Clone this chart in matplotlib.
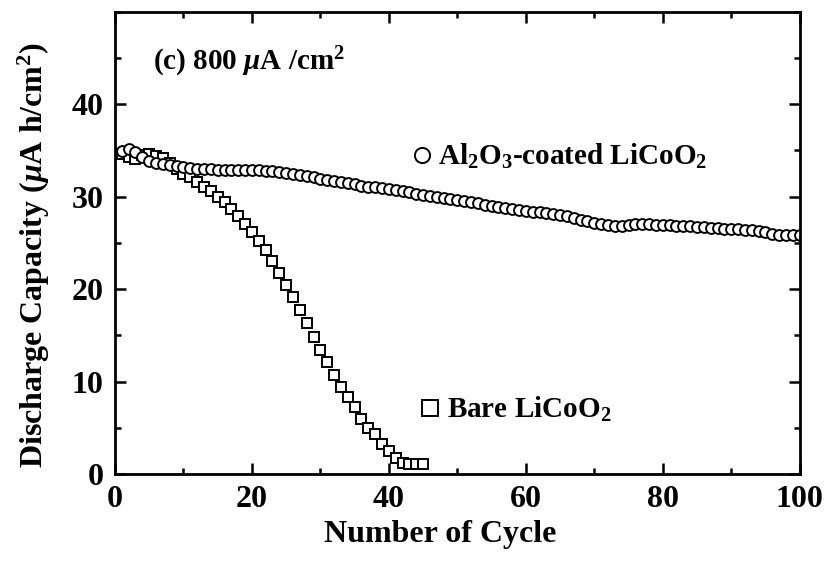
import numpy as np
import matplotlib.pyplot as plt
from matplotlib.ticker import MultipleLocator

plt.rcParams['font.family'] = ['Liberation Serif', 'DejaVu Serif']
plt.rcParams['font.weight'] = 'bold'
plt.rcParams['mathtext.fontset'] = 'custom'
plt.rcParams['mathtext.rm'] = 'Liberation Serif:bold'
plt.rcParams['mathtext.it'] = 'Liberation Serif:italic:bold'
plt.rcParams['mathtext.bf'] = 'Liberation Serif:bold'

# Al2O3-coated LiCoO2, cycles 1..100
coated_cycle = np.arange(1, 101)
coated_cap = [
    34.9, 35.2, 34.8, 34.3, 33.9, 33.7, 33.5, 33.4, 33.3, 33.2,
    33.1, 33.0, 33.0, 32.95, 32.9, 32.9, 32.9, 32.9, 32.9, 32.9,
    32.85, 32.8, 32.8, 32.7, 32.6, 32.5, 32.4, 32.2, 32.1, 31.9,
    31.8, 31.7, 31.6, 31.5, 31.4, 31.2, 31.1, 31.0, 30.9, 30.8,
    30.7, 30.6, 30.5, 30.3, 30.2, 30.1, 30.0, 29.9, 29.8, 29.6,
    29.5, 29.4, 29.3, 29.1, 29.0, 28.9, 28.8, 28.7, 28.6, 28.5,
    28.4, 28.3, 28.2, 28.1, 28.0, 27.9, 27.7, 27.5, 27.4, 27.2,
    27.0, 26.9, 26.8, 26.8, 26.9, 27.0, 27.0, 27.0, 26.9, 26.9,
    26.9, 26.8, 26.8, 26.8, 26.7, 26.7, 26.6, 26.6, 26.5, 26.5,
    26.5, 26.4, 26.4, 26.3, 26.2, 26.0, 25.9, 25.9, 25.9, 25.9,
]

# bare LiCoO2, cycles 1..45
bare_cycle = np.arange(1, 46)
bare_cap = [
    34.6, 34.3, 34.1, 34.5, 34.6, 34.4, 34.2, 33.7, 33.0, 32.5,
    32.1, 31.6, 31.1, 30.6, 30.0, 29.4, 28.7, 27.9, 27.0, 26.2,
    25.2, 24.2, 23.0, 21.8, 20.5, 19.2, 17.7, 16.3, 14.8, 13.4,
    12.1, 10.7, 9.4, 8.3, 7.2, 6.0, 5.0, 4.3, 3.3, 2.5,
    1.7, 1.2, 1.1, 1.05, 1.05,
]

fig = plt.figure(figsize=(8.27, 5.63), dpi=100)
ax = fig.add_axes([0.139, 0.158, 0.828, 0.821])

bare, = ax.plot(bare_cycle, bare_cap, 's', ms=7, mfc='white', mec='black', mew=1.4)
coated, = ax.plot(coated_cycle, coated_cap, 'o', ms=7.8, mfc='white', mec='black', mew=1.4)

ax.set_xlim(0, 100)
ax.set_ylim(0, 50)
ax.xaxis.set_major_locator(MultipleLocator(20))
ax.xaxis.set_minor_locator(MultipleLocator(10))
ax.set_yticks([0, 10, 20, 30, 40])
ax.yaxis.set_minor_locator(MultipleLocator(5))
ax.tick_params(which='both', direction='in', top=True, right=True, width=1.8)
ax.tick_params(which='major', length=8, labelsize=23)
ax.tick_params(which='minor', length=4)
ax.tick_params(axis='x', pad=8)
ax.tick_params(axis='y', pad=8)
for s in ax.spines.values():
    s.set_linewidth(2)

ax.set_xlabel('Number of Cycle', fontsize=23, fontweight='bold')
ax.xaxis.set_label_coords(0.475, -0.1)
ax.set_ylabel(r'Discharge Capacity ($\mathit{\mu}$A h/cm$^2$)', fontsize=23, fontweight='bold')
ax.yaxis.set_label_coords(-0.092, 0.475)

ax.text(0.0555, 0.874, r'(c) 800 $\mathit{\mu}$A /cm$^2$', transform=ax.transAxes,
        fontsize=21, fontweight='bold', va='baseline', ha='left')

leg1 = ax.legend([coated], [r'Al$_2$O$_3$-coated LiCoO$_2$'], loc='center left',
                 bbox_to_anchor=(0.435, 0.687), frameon=False, fontsize=21,
                 handlelength=0.6, handletextpad=0.25, borderpad=0, borderaxespad=0,
                 numpoints=1, markerscale=1.4)
ax.add_artist(leg1)
ax.legend([bare], [r'Bare LiCoO$_2$'], loc='center left',
          bbox_to_anchor=(0.448, 0.140), frameon=False, fontsize=21,
          handlelength=0.6, handletextpad=0.25, borderpad=0, borderaxespad=0,
          numpoints=1, markerscale=1.6)

fig.savefig('out.png', dpi=100)
